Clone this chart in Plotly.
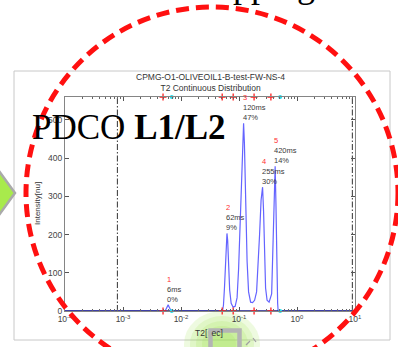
import math
import plotly.graph_objects as go

# ---- T2 continuous distribution (T2 in seconds, intensity in [nu]) ----
t2_sec = [
    0.0001, 0.00533, 0.00565, 0.006, 0.00637, 0.00676,
    0.05186, 0.05397, 0.05614, 0.05841, 0.06030, 0.062, 0.06375, 0.06632,
    0.06902, 0.07324, 0.07929, 0.08587,
    0.09271, 0.09840, 0.10445, 0.1108, 0.1163, 0.120, 0.1239, 0.1299,
    0.1379, 0.1463, 0.1585, 0.1715,
    0.1856, 0.2010, 0.2133, 0.2264, 0.2402, 0.255, 0.2653, 0.2761,
    0.2873, 0.3049, 0.3302,
    0.3655, 0.3803, 0.3957, 0.4085, 0.420, 0.4335, 0.4475, 0.4639, 0.4732,
    10.0,
]
intensity = [
    0, 0, 8, 16, 8, 0,
    0, 15, 60, 120, 175, 203, 185, 120,
    55, 20, 10, 12,
    35, 110, 230, 380, 470, 491, 440, 290,
    130, 50, 23, 22,
    28, 50, 110, 200, 290, 324, 260, 150,
    60, 28, 23,
    45, 130, 250, 340, 379, 280, 120, 20, 0,
    0,
]

# ---- peak annotations ----
peak_ids = [1, 2, 3, 4, 5]
peak_t2 = [0.006, 0.062, 0.120, 0.255, 0.420]
peak_t2_text = ["6ms", "62ms", "120ms", "255ms", "420ms"]
peak_pct = [0, 9, 47, 30, 14]
peak_height = [16, 203, 491, 324, 379]

# integration boundaries (red) and outer limits (cyan)
bound_red = [0.0049, 0.0513, 0.0794, 0.182, 0.355]
bound_cyan = [0.00692, 0.513]

# T2 window limits (dash-dot lines)
t2_limits = [0.0008, 9.0]

# ---- axes ----
x_range_exp = [-4, 1]
x_ticks = [1e-4, 1e-3, 1e-2, 1e-1, 1, 10]
x_ticktext = ["10<sup>-4</sup>", "10<sup>-3</sup>", "10<sup>-2</sup>",
              "10<sup>-1</sup>", "10<sup>0</sup>", "10<sup>1</sup>"]
y_max = 560
y_ticks = [0, 100, 200, 300, 400, 500]

title_lines = ["CPMG-O1-OLIVEOIL1-B-test-FW-NS-4", "T2 Continuous Distribution"]

# ---- page geometry (pixels) ----
W, H = 398, 347
ML, MR, MT, MB = 65, 43, 97, 36
PW, PH = W - ML - MR, H - MT - MB


def px(x):
    return (x - ML) / PW


def py(y):
    return (H - MB - y) / PH


minor_vals = [k * 10.0 ** e for e in range(-4, 1) for k in range(2, 10)]

fig = go.Figure()

fig.add_trace(go.Scatter(
    x=t2_sec, y=intensity, mode="lines",
    line=dict(color="#6464ff", width=1.2), hoverinfo="skip", showlegend=False,
))
# dark baseline along zero intensity
fig.add_trace(go.Scatter(
    x=[t2_sec[0], t2_sec[-1]], y=[intensity[0], intensity[-1]], mode="lines",
    line=dict(color="#1a1a8a", width=1.6), hoverinfo="skip", showlegend=False,
))
for v in t2_limits:
    fig.add_trace(go.Scatter(
        x=[v, v], y=[0, y_max], mode="lines",
        line=dict(color="#333333", width=1, dash="6px,2px,1.5px,2px"),
        hoverinfo="skip", showlegend=False,
    ))
for yv in (0, y_max):
    fig.add_trace(go.Scatter(
        x=bound_red, y=[yv] * len(bound_red), mode="markers", cliponaxis=False,
        marker=dict(symbol="cross-thin", size=5, line=dict(color="#ff2020", width=1.3)),
        hoverinfo="skip", showlegend=False,
    ))
    fig.add_trace(go.Scatter(
        x=bound_cyan, y=[yv] * len(bound_cyan), mode="markers", cliponaxis=False,
        marker=dict(symbol="circle", size=4, color="#22e0ee"),
        hoverinfo="skip", showlegend=False,
    ))

axis_common = dict(
    showline=True, linecolor="#858585", linewidth=1.2, mirror="allticks",
    ticks="inside", ticklen=4, tickwidth=1, tickcolor="#555555",
    showgrid=False, zeroline=False,
    tickfont=dict(family="Liberation Sans", size=8.5, color="#444444"),
)

fig.update_xaxes(
    type="log", range=x_range_exp, tickvals=x_ticks, ticktext=x_ticktext,
    minor=dict(ticks="inside", ticklen=2, tickcolor="#666666", tickvals=minor_vals,
               showgrid=False),
    **axis_common,
)
fig.update_yaxes(range=[0, y_max], tickvals=y_ticks, **axis_common)

annotations = []
small = dict(family="Liberation Sans", size=7.5, color="#3a3a3a")
for pid, t2, txt, pct, h in zip(peak_ids, peak_t2, peak_t2_text, peak_pct, peak_height):
    annotations.append(dict(
        x=math.log10(t2), y=h, xref="x", yref="y",
        text=f"<span style='color:#ff3030'>{pid}</span><br>{txt}<br>{pct}%",
        showarrow=False, xanchor="left", yanchor="bottom", align="left",
        xshift=-3, yshift=-1, font=small,
    ))

annotations += [
    dict(x=px(210), y=py(82), xref="paper", yref="paper", xanchor="center",
         yanchor="middle", text="<br>".join(title_lines), showarrow=False,
         font=dict(family="Liberation Sans", size=8.5, color="#333333")),
    dict(x=px(37), y=py(204), xref="paper", yref="paper", xanchor="center",
         yanchor="middle", text="Intensity[nu]", textangle=-90, showarrow=False,
         font=dict(family="Liberation Sans", size=8, color="#333333")),
    dict(x=px(209), y=py(333), xref="paper", yref="paper", xanchor="center",
         yanchor="middle", text="T2[<span style='color:#b4b4b4'>s</span>ec]",
         showarrow=False,
         font=dict(family="Liberation Sans", size=8.5, color="#333333")),
    dict(x=px(30), y=py(127), xref="paper", yref="paper", xanchor="left",
         yanchor="middle", text="PDCO <b>L1/L2</b>", showarrow=False,
         font=dict(family="Liberation Serif", size=35, color="#000000")),
    dict(x=px(317), y=py(-15), xref="paper", yref="paper", xanchor="right",
         yanchor="middle", text="Mapping", showarrow=False,
         font=dict(family="Liberation Serif", size=36, color="#000000")),
]

shapes = [
    # chart panel frame
    dict(type="rect", xref="paper", yref="paper", x0=px(14), x1=px(390),
         y0=py(340), y1=py(71), line=dict(color="#c8c8c8", width=1), layer="below"),
]
# green glow behind the selection box
for rx, ry in [(38, 33), (32, 28), (26, 23), (20, 18), (14, 13)]:
    shapes.append(dict(type="circle", xref="paper", yref="paper",
                       x0=px(222 - rx), x1=px(222 + rx), y0=py(344 + ry), y1=py(344 - ry),
                       fillcolor="#98e448", opacity=0.17, line=dict(width=0), layer="below"))
shapes += [
    # selection box
    dict(type="rect", xref="paper", yref="paper", x0=px(210.5), x1=px(239.5),
         y0=py(355), y1=py(330.5), line=dict(color="#b4b4b4", width=4.5), layer="below"),
    # small handle strokes beside the box
    dict(type="line", xref="paper", yref="paper", x0=px(246), y0=py(345),
         x1=px(250), y1=py(341), line=dict(color="#a0a0a0", width=1.2), layer="below"),
    dict(type="line", xref="paper", yref="paper", x0=px(253), y0=py(338),
         x1=px(256), y1=py(342), line=dict(color="#a0a0a0", width=1.2), layer="below"),
    # green arrow on the left
    dict(type="path", xref="paper", yref="paper",
         path=f"M {px(-6)},{py(164)} L {px(15)},{py(193)} L {px(-6)},{py(222)} Z",
         fillcolor="#a8ea4c", line=dict(color="#aaaaaa", width=2.5), layer="above"),
    # red dashed circle
    dict(type="circle", xref="paper", yref="paper", x0=px(26), x1=px(398),
         y0=py(379), y1=py(7), line=dict(color="#ff1010", width=5, dash="13px,7px"),
         layer="above"),
]

fig.update_layout(
    width=W, height=H, autosize=False,
    margin=dict(l=ML, r=MR, t=MT, b=MB, pad=0),
    paper_bgcolor="white", plot_bgcolor="white",
    showlegend=False, annotations=annotations, shapes=shapes,
)

fig.write_html("out.html")
